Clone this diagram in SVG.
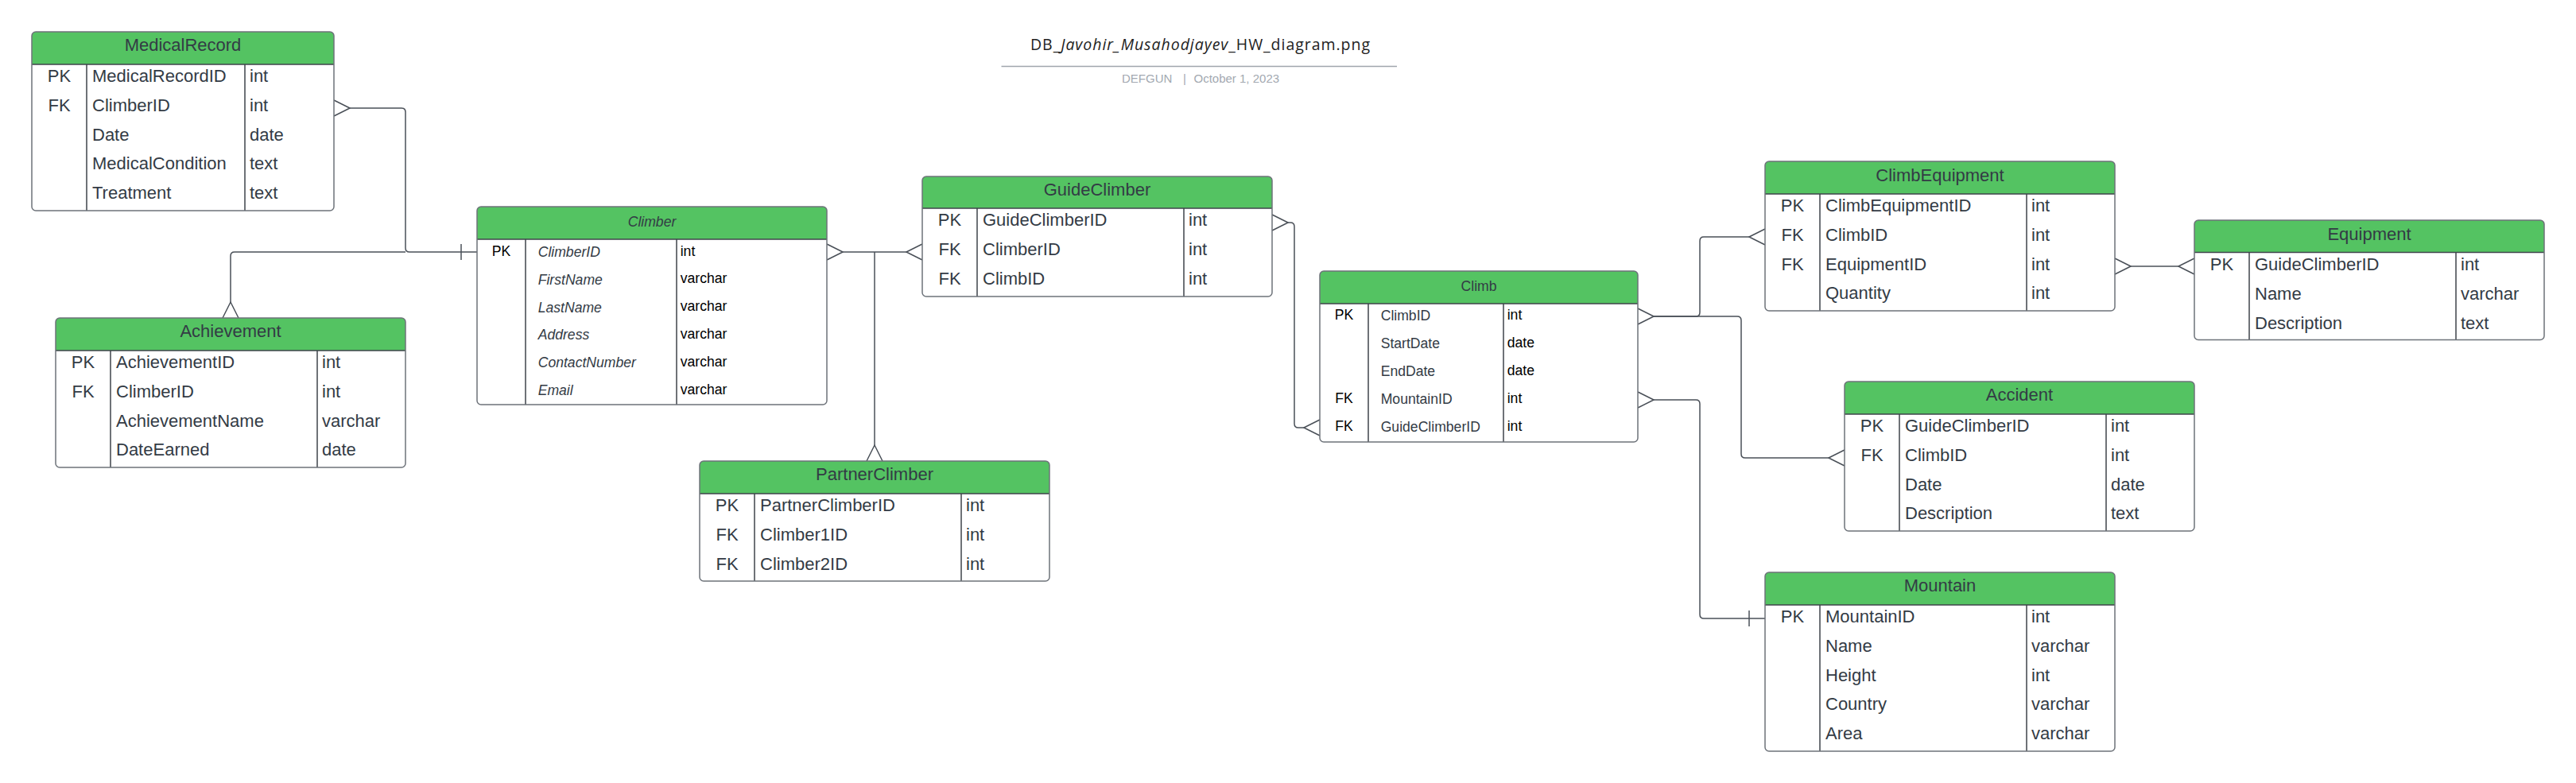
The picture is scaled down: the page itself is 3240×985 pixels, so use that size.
<svg xmlns="http://www.w3.org/2000/svg" width="3240" height="985" viewBox="0 0 3240 985">
<style>
.bg{fill:#ffffff}
.box{fill:none;stroke:#6e737a;stroke-width:1.5}
.boxfill{fill:#ffffff}
.hdr{fill:#54c362}
.sep{stroke:#3f444b;stroke-width:1.5;fill:none}
.t{font-family:"Liberation Sans",Arial,sans-serif;font-size:22px;fill:#333b45}
.th{font-family:"Liberation Sans",Arial,sans-serif;font-size:22px;fill:#333b45;text-anchor:middle}
.c{text-anchor:middle}
.s{font-family:"Liberation Sans",Arial,sans-serif;font-size:17.6px;fill:#333b45}
.sb{font-family:"Liberation Sans",Arial,sans-serif;font-size:17.6px;fill:#000000}
.i{font-style:italic}
.conn{fill:none;stroke:#4a5058;stroke-width:1.5;stroke-linejoin:round}
.title{font-family:"Open Sans","Noto Sans",sans-serif;font-size:19.5px;fill:#222222}
.sub{font-family:"Liberation Sans",Arial,sans-serif;font-size:15px;fill:#a3a9b1}
</style>
<rect class="bg" x="0" y="0" width="3240" height="985"/>

<g id="title">
<text class="title" x="1296" y="63" textLength="427" lengthAdjust="spacing">DB_<tspan font-style="italic">Javohir_Musahodjayev</tspan>_HW_diagram.png</text>
<line x1="1259.5" y1="83.5" x2="1757" y2="83.5" stroke="#a0a5ad" stroke-width="1.5"/>
<text class="sub" x="1411" y="104">DEFGUN</text>
<text class="sub" x="1488" y="104">|</text>
<text class="sub" x="1501.5" y="104">October 1, 2023</text>
</g>

<g id="connectors">
<!-- MedicalRecord - Climber -->
<path class="conn" d="M420,126 L440,136 L420,146"/>
<path class="conn" d="M440,136 H505 Q510,136 510,141 V312 Q510,317 515,317 H600"/>
<path class="conn" d="M580,307 V327"/>
<!-- Achievement - Climber -->
<path class="conn" d="M280,400 L290,380 L300,400"/>
<path class="conn" d="M290,380 V322 Q290,317 295,317 H510"/>
<!-- Climber - GuideClimber / PartnerClimber -->
<path class="conn" d="M1040,307 L1060,317 L1040,327"/>
<path class="conn" d="M1160,307 L1140,317 L1160,327"/>
<path class="conn" d="M1060,317 H1140"/>
<path class="conn" d="M1100,317 V560"/>
<path class="conn" d="M1090,580 L1100,560 L1110,580"/>
<!-- GuideClimber - Climb -->
<path class="conn" d="M1600,270 L1620,280 L1600,290"/>
<path class="conn" d="M1620,280 H1623 Q1628,280 1628,285 V533 Q1628,538 1633,538 H1640"/>
<path class="conn" d="M1660,528 L1640,538 L1660,548"/>
<!-- Climb - ClimbEquipment -->
<path class="conn" d="M2060,388 L2080,398 L2060,408"/>
<path class="conn" d="M2080,398 H2133 Q2138,398 2138,393 V303 Q2138,298 2143,298 H2200"/>
<path class="conn" d="M2220,288 L2200,298 L2220,308"/>
<!-- Climb - Accident -->
<path class="conn" d="M2080,398 H2185 Q2190,398 2190,403 V571 Q2190,576 2195,576 H2300"/>
<path class="conn" d="M2320,566 L2300,576 L2320,586"/>
<!-- Climb - Mountain -->
<path class="conn" d="M2060,493 L2080,503 L2060,513"/>
<path class="conn" d="M2080,503 H2133 Q2138,503 2138,508 V773 Q2138,778 2143,778 H2220"/>
<path class="conn" d="M2200,768 V788"/>
<!-- ClimbEquipment - Equipment -->
<path class="conn" d="M2660,325 L2680,335 L2660,345"/>
<path class="conn" d="M2760,325 L2740,335 L2760,345"/>
<path class="conn" d="M2680,335 H2740"/>
</g>

<g id="MedicalRecord">
<rect class="boxfill" x="40" y="40" width="380" height="225" rx="5"/>
<path class="hdr" d="M40,81 V45 Q40,40 45,40 H415 Q420,40 420,45 V81 Z"/>
<path class="sep" d="M40,81 H420 M109,81 V265 M308,81 V265"/>
<rect class="box" x="40" y="40" width="380" height="225" rx="5"/>
<text class="th" x="230" y="64">MedicalRecord</text>
<text class="t c" x="74.5" y="103.3">PK</text><text class="t" x="116" y="103.3">MedicalRecordID</text><text class="t" x="314" y="103.3">int</text>
<text class="t c" x="74.5" y="140">FK</text><text class="t" x="116" y="140">ClimberID</text><text class="t" x="314" y="140">int</text>
<text class="t" x="116" y="176.7">Date</text><text class="t" x="314" y="176.7">date</text>
<text class="t" x="116" y="213.3">MedicalCondition</text><text class="t" x="314" y="213.3">text</text>
<text class="t" x="116" y="250">Treatment</text><text class="t" x="314" y="250">text</text>
</g>

<g id="Achievement">
<rect class="boxfill" x="70" y="400" width="440" height="188" rx="5"/>
<path class="hdr" d="M70,441 V405 Q70,400 75,400 H505 Q510,400 510,405 V441 Z"/>
<path class="sep" d="M70,441 H510 M139,441 V588 M399,441 V588"/>
<rect class="box" x="70" y="400" width="440" height="188" rx="5"/>
<text class="th" x="290" y="424">Achievement</text>
<text class="t c" x="104.5" y="463.3">PK</text><text class="t" x="146" y="463.3">AchievementID</text><text class="t" x="405" y="463.3">int</text>
<text class="t c" x="104.5" y="500">FK</text><text class="t" x="146" y="500">ClimberID</text><text class="t" x="405" y="500">int</text>
<text class="t" x="146" y="536.7">AchievementName</text><text class="t" x="405" y="536.7">varchar</text>
<text class="t" x="146" y="573.3">DateEarned</text><text class="t" x="405" y="573.3">date</text>
</g>

<g id="Climber">
<rect class="boxfill" x="600" y="260" width="440" height="249" rx="5"/>
<path class="hdr" d="M600,301 V265 Q600,260 605,260 H1035 Q1040,260 1040,265 V301 Z"/>
<path class="sep" d="M600,301 H1040 M661,301 V509 M851,301 V509"/>
<rect class="box" x="600" y="260" width="440" height="249" rx="5"/>
<text class="s i c" x="820" y="285">Climber</text>
<text class="sb c" x="630.5" y="322">PK</text><text class="s i" x="676.7" y="322.7">ClimberID</text><text class="sb" x="855.7" y="321.5">int</text>
<text class="s i" x="676.7" y="357.6">FirstName</text><text class="sb" x="855.7" y="356.4">varchar</text>
<text class="s i" x="676.7" y="392.5">LastName</text><text class="sb" x="855.7" y="391.3">varchar</text>
<text class="s i" x="676.7" y="427.4">Address</text><text class="sb" x="855.7" y="426.2">varchar</text>
<text class="s i" x="676.7" y="462.3">ContactNumber</text><text class="sb" x="855.7" y="461.1">varchar</text>
<text class="s i" x="676.7" y="497.2">Email</text><text class="sb" x="855.7" y="496">varchar</text>
</g>

<g id="GuideClimber">
<rect class="boxfill" x="1160" y="222" width="440" height="151" rx="5"/>
<path class="hdr" d="M1160,262 V227 Q1160,222 1165,222 H1595 Q1600,222 1600,227 V262 Z"/>
<path class="sep" d="M1160,262 H1600 M1229,262 V373 M1489,262 V373"/>
<rect class="box" x="1160" y="222" width="440" height="151" rx="5"/>
<text class="th" x="1380" y="246">GuideClimber</text>
<text class="t c" x="1194.5" y="284.3">PK</text><text class="t" x="1236" y="284.3">GuideClimberID</text><text class="t" x="1495" y="284.3">int</text>
<text class="t c" x="1194.5" y="321">FK</text><text class="t" x="1236" y="321">ClimberID</text><text class="t" x="1495" y="321">int</text>
<text class="t c" x="1194.5" y="357.7">FK</text><text class="t" x="1236" y="357.7">ClimbID</text><text class="t" x="1495" y="357.7">int</text>
</g>

<g id="PartnerClimber">
<rect class="boxfill" x="880" y="580" width="440" height="151" rx="5"/>
<path class="hdr" d="M880,621 V585 Q880,580 885,580 H1315 Q1320,580 1320,585 V621 Z"/>
<path class="sep" d="M880,621 H1320 M949,621 V731 M1209,621 V731"/>
<rect class="box" x="880" y="580" width="440" height="151" rx="5"/>
<text class="th" x="1100" y="604">PartnerClimber</text>
<text class="t c" x="914.5" y="643.3">PK</text><text class="t" x="956" y="643.3">PartnerClimberID</text><text class="t" x="1215" y="643.3">int</text>
<text class="t c" x="914.5" y="680">FK</text><text class="t" x="956" y="680">Climber1ID</text><text class="t" x="1215" y="680">int</text>
<text class="t c" x="914.5" y="716.7">FK</text><text class="t" x="956" y="716.7">Climber2ID</text><text class="t" x="1215" y="716.7">int</text>
</g>

<g id="Climb">
<rect class="boxfill" x="1660" y="341" width="400" height="215" rx="5"/>
<path class="hdr" d="M1660,382 V346 Q1660,341 1665,341 H2055 Q2060,341 2060,346 V382 Z"/>
<path class="sep" d="M1660,382 H2060 M1721,382 V556 M1891,382 V556"/>
<rect class="box" x="1660" y="341" width="400" height="215" rx="5"/>
<text class="s c" x="1860" y="366">Climb</text>
<text class="sb c" x="1690.5" y="402">PK</text><text class="s" x="1736.7" y="403">ClimbID</text><text class="sb" x="1895.7" y="402">int</text>
<text class="s" x="1736.7" y="438">StartDate</text><text class="sb" x="1895.7" y="437">date</text>
<text class="s" x="1736.7" y="473">EndDate</text><text class="sb" x="1895.7" y="472">date</text>
<text class="sb c" x="1690.5" y="507">FK</text><text class="s" x="1736.7" y="508">MountainID</text><text class="sb" x="1895.7" y="507">int</text>
<text class="sb c" x="1690.5" y="542">FK</text><text class="s" x="1736.7" y="543">GuideClimberID</text><text class="sb" x="1895.7" y="542">int</text>
</g>

<g id="ClimbEquipment">
<rect class="boxfill" x="2220" y="203" width="440" height="188" rx="5"/>
<path class="hdr" d="M2220,244 V208 Q2220,203 2225,203 H2655 Q2660,203 2660,208 V244 Z"/>
<path class="sep" d="M2220,244 H2660 M2289,244 V391 M2549,244 V391"/>
<rect class="box" x="2220" y="203" width="440" height="188" rx="5"/>
<text class="th" x="2440" y="227.5">ClimbEquipment</text>
<text class="t c" x="2254.5" y="266.3">PK</text><text class="t" x="2296" y="266.3">ClimbEquipmentID</text><text class="t" x="2555" y="266.3">int</text>
<text class="t c" x="2254.5" y="303">FK</text><text class="t" x="2296" y="303">ClimbID</text><text class="t" x="2555" y="303">int</text>
<text class="t c" x="2254.5" y="339.7">FK</text><text class="t" x="2296" y="339.7">EquipmentID</text><text class="t" x="2555" y="339.7">int</text>
<text class="t" x="2296" y="376.3">Quantity</text><text class="t" x="2555" y="376.3">int</text>
</g>

<g id="Equipment">
<rect class="boxfill" x="2760" y="277" width="440" height="150.5" rx="5"/>
<path class="hdr" d="M2760,317.5 V282 Q2760,277 2765,277 H3195 Q3200,277 3200,282 V317.5 Z"/>
<path class="sep" d="M2760,317.5 H3200 M2829,317.5 V427.5 M3089,317.5 V427.5"/>
<rect class="box" x="2760" y="277" width="440" height="150.5" rx="5"/>
<text class="th" x="2980" y="301.5">Equipment</text>
<text class="t c" x="2794.5" y="340.3">PK</text><text class="t" x="2836" y="340.3">GuideClimberID</text><text class="t" x="3095" y="340.3">int</text>
<text class="t" x="2836" y="377">Name</text><text class="t" x="3095" y="377">varchar</text>
<text class="t" x="2836" y="413.7">Description</text><text class="t" x="3095" y="413.7">text</text>
</g>

<g id="Accident">
<rect class="boxfill" x="2320" y="480" width="440" height="188" rx="5"/>
<path class="hdr" d="M2320,521 V485 Q2320,480 2325,480 H2755 Q2760,480 2760,485 V521 Z"/>
<path class="sep" d="M2320,521 H2760 M2389,521 V668 M2649,521 V668"/>
<rect class="box" x="2320" y="480" width="440" height="188" rx="5"/>
<text class="th" x="2540" y="504">Accident</text>
<text class="t c" x="2354.5" y="543.3">PK</text><text class="t" x="2396" y="543.3">GuideClimberID</text><text class="t" x="2655" y="543.3">int</text>
<text class="t c" x="2354.5" y="580">FK</text><text class="t" x="2396" y="580">ClimbID</text><text class="t" x="2655" y="580">int</text>
<text class="t" x="2396" y="616.7">Date</text><text class="t" x="2655" y="616.7">date</text>
<text class="t" x="2396" y="653.3">Description</text><text class="t" x="2655" y="653.3">text</text>
</g>

<g id="Mountain">
<rect class="boxfill" x="2220" y="720" width="440" height="225" rx="5"/>
<path class="hdr" d="M2220,761 V725 Q2220,720 2225,720 H2655 Q2660,720 2660,725 V761 Z"/>
<path class="sep" d="M2220,761 H2660 M2289,761 V945 M2549,761 V945"/>
<rect class="box" x="2220" y="720" width="440" height="225" rx="5"/>
<text class="th" x="2440" y="744">Mountain</text>
<text class="t c" x="2254.5" y="783.3">PK</text><text class="t" x="2296" y="783.3">MountainID</text><text class="t" x="2555" y="783.3">int</text>
<text class="t" x="2296" y="820">Name</text><text class="t" x="2555" y="820">varchar</text>
<text class="t" x="2296" y="856.7">Height</text><text class="t" x="2555" y="856.7">int</text>
<text class="t" x="2296" y="893.3">Country</text><text class="t" x="2555" y="893.3">varchar</text>
<text class="t" x="2296" y="930">Area</text><text class="t" x="2555" y="930">varchar</text>
</g>
</svg>
